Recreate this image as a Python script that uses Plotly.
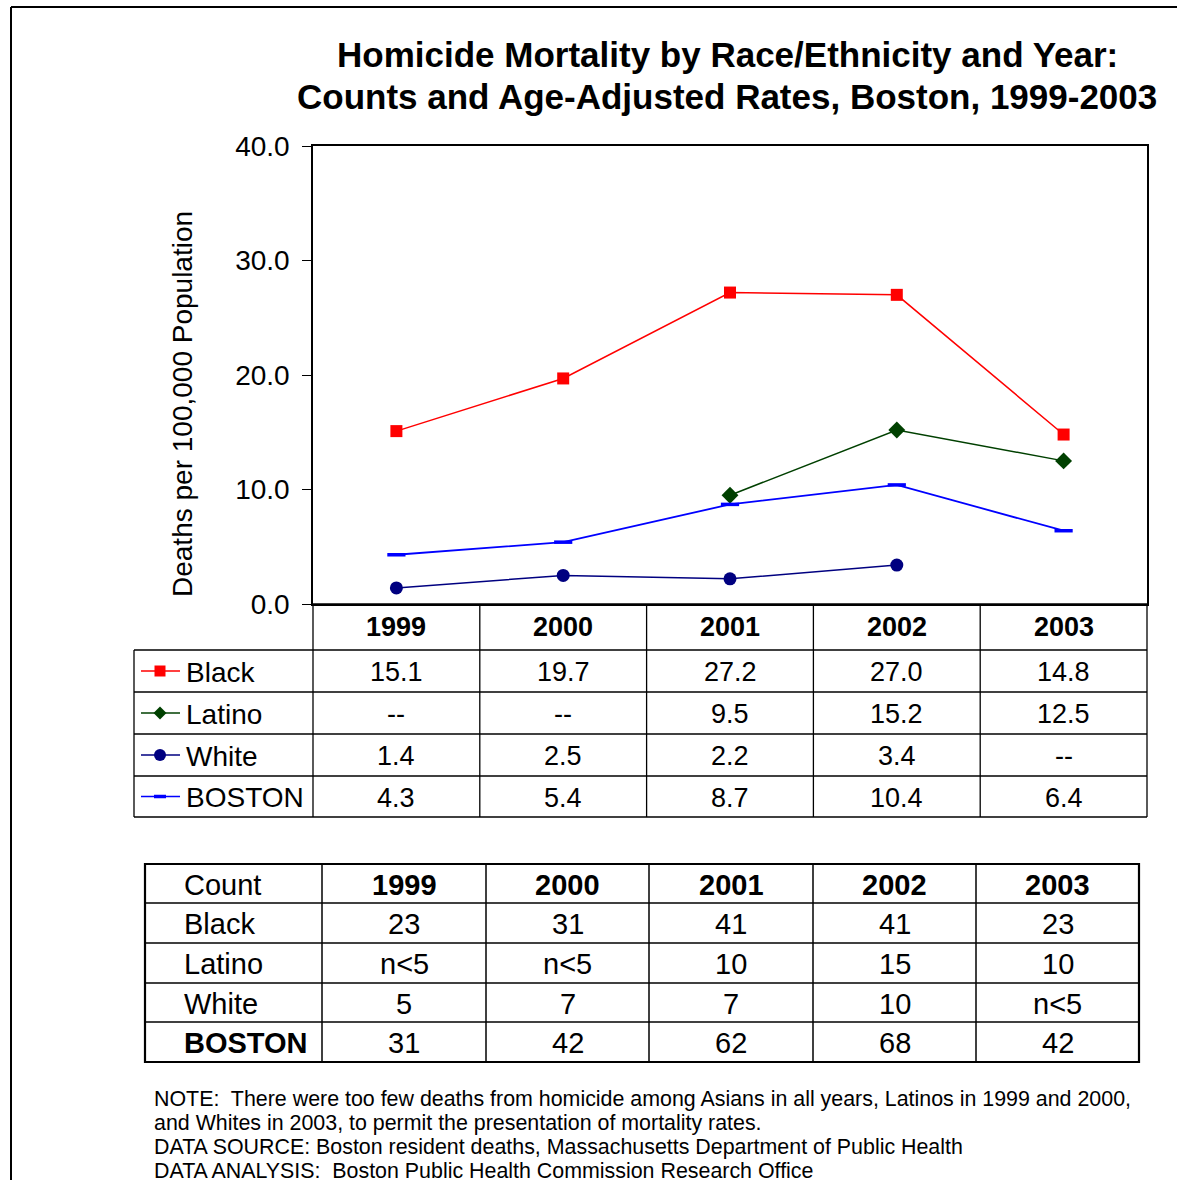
import plotly.graph_objects as go

W, H = 1177, 1180

years = ["1999", "2000", "2001", "2002", "2003"]
series_names = ["Black", "Latino", "White", "BOSTON"]
black_rates = [15.1, 19.7, 27.2, 27.0, 14.8]
latino_rates = [None, None, 9.5, 15.2, 12.5]
white_rates = [1.4, 2.5, 2.2, 3.4, None]
boston_rates = [4.3, 5.4, 8.7, 10.4, 6.4]

count_rows = ["Black", "Latino", "White", "BOSTON"]
black_counts = ["23", "31", "41", "41", "23"]
latino_counts = ["n<5", "n<5", "10", "15", "10"]
white_counts = ["5", "7", "7", "10", "n<5"]
boston_counts = ["31", "42", "62", "68", "42"]

y_ticks = [0, 10, 20, 30, 40]
y_tick_labels = ["0.0", "10.0", "20.0", "30.0", "40.0"]

title_lines = ["Homicide Mortality by Race/Ethnicity and Year:",
               "Counts and Age-Adjusted Rates, Boston, 1999-2003"]
y_title = "Deaths per 100,000 Population"
notes = [
    "NOTE:  There were too few deaths from homicide among Asians in all years, Latinos in 1999 and 2000,",
    "and Whites in 2003, to permit the presentation of mortality rates.",
    "DATA SOURCE: Boston resident deaths, Massachusetts Department of Public Health",
    "DATA ANALYSIS:  Boston Public Health Commission Research Office",
]

FONT = "Arial, Liberation Sans, sans-serif"

styles = {
    "Black": dict(color="#FF0000", symbol="square", size=12, lw=1.5),
    "Latino": dict(color="#004000", symbol="diamond", size=13, lw=1.5),
    "White": dict(color="#000080", symbol="circle", size=13, lw=1.5),
    "BOSTON": dict(color="#0000FF", symbol="line-ew", size=13, lw=1.8),
}
rates = {"Black": black_rates, "Latino": latino_rates, "White": white_rates, "BOSTON": boston_rates}
rate_text = {k: [("--" if v is None else f"{v:.1f}") for v in vals] for k, vals in rates.items()}


def px(x):
    return x / W


def py(y):
    return 1 - y / H


# plot area in pixels
PL, PR, PT, PB = 313, 1147, 146, 604

fig = go.Figure()
for name in series_names:
    s = styles[name]
    marker = dict(symbol=s["symbol"], size=s["size"], color=s["color"])
    if s["symbol"] == "line-ew":
        marker["line"] = dict(color=s["color"], width=3.5)
    fig.add_trace(go.Scatter(
        x=list(range(len(years))), y=rates[name], mode="lines+markers",
        line=dict(color=s["color"], width=s["lw"]), marker=marker,
        connectgaps=False, name=name, showlegend=False))

shapes = []
annotations = []

# outer border (left and top visible)
shapes.append(dict(type="line", xref="paper", yref="paper", x0=px(11), x1=px(11), y0=py(7), y1=py(H + 5),
                   line=dict(color="black", width=2)))
shapes.append(dict(type="line", xref="paper", yref="paper", x0=px(11), x1=px(W + 5), y0=py(7), y1=py(7),
                   line=dict(color="black", width=2)))

# Title
for i, t in enumerate(title_lines):
    annotations.append(dict(text=f"<b>{t}</b>", x=px(727), y=py(55 + 42 * i), xref="paper", yref="paper",
                            showarrow=False, xanchor="center", yanchor="middle",
                            font=dict(family=FONT, size=35, color="black")))

# y title
annotations.append(dict(text=y_title, x=px(183), y=py(404), xref="paper", yref="paper", textangle=-90,
                        showarrow=False, xanchor="center", yanchor="middle",
                        font=dict(family=FONT, size=28, color="black")))


def hline(x0, x1, y, w=1.3):
    shapes.append(dict(type="line", xref="paper", yref="paper", x0=px(x0), x1=px(x1), y0=py(y), y1=py(y),
                       line=dict(color="black", width=w)))


def vline(x, y0, y1, w=1.3):
    shapes.append(dict(type="line", xref="paper", yref="paper", x0=px(x), x1=px(x), y0=py(y0), y1=py(y1),
                       line=dict(color="black", width=w)))


def text(t, x, y, size, anchor="center", bold=False):
    annotations.append(dict(text=(f"<b>{t}</b>" if bold else t), x=px(x), y=py(y), xref="paper", yref="paper",
                            showarrow=False, xanchor=anchor, yanchor="middle",
                            font=dict(family=FONT, size=size, color="black")))


# ---- data table under the chart ----
col_edges = [PL + (PR - PL) * i / 5 for i in range(6)]
col_centers = [(col_edges[i] + col_edges[i + 1]) / 2 for i in range(5)]
row_edges = [604, 650, 692, 734, 776, 817]
TL = 134
for i, e in enumerate(col_edges):
    vline(e, PB, row_edges[-1])
vline(TL, row_edges[1], row_edges[-1])
hline(PL, PR, row_edges[0])
for r in row_edges[1:]:
    hline(TL, PR, r)
for j, yv in enumerate(years):
    text(yv, col_centers[j], (row_edges[0] + row_edges[1]) / 2, 27, bold=True)
for i, name in enumerate(series_names):
    yc = (row_edges[i + 1] + row_edges[i + 2]) / 2 + 1
    text(name, 184, yc, 28, anchor="left")
    for j in range(5):
        text(rate_text[name][j], col_centers[j], yc, 27)
    s = styles[name]
    ly = yc - 1
    shapes.append(dict(type="line", xref="paper", yref="paper", x0=px(141), x1=px(180), y0=py(ly), y1=py(ly),
                       line=dict(color=s["color"], width=1.5)))
    mx, r = 160, 5.5
    if s["symbol"] == "square":
        shapes.append(dict(type="rect", xref="paper", yref="paper", x0=px(mx - r), x1=px(mx + r),
                           y0=py(ly - r), y1=py(ly + r), fillcolor=s["color"], line=dict(width=0)))
    elif s["symbol"] == "diamond":
        path = (f"M {px(mx)},{py(ly - 6.5)} L {px(mx + 6.5)},{py(ly)} L {px(mx)},{py(ly + 6.5)} "
                f"L {px(mx - 6.5)},{py(ly)} Z")
        shapes.append(dict(type="path", xref="paper", yref="paper", path=path,
                           fillcolor=s["color"], line=dict(width=0)))
    elif s["symbol"] == "circle":
        shapes.append(dict(type="circle", xref="paper", yref="paper", x0=px(mx - 6), x1=px(mx + 6),
                           y0=py(ly - 6), y1=py(ly + 6), fillcolor=s["color"], line=dict(width=0)))
    else:
        shapes.append(dict(type="line", xref="paper", yref="paper", x0=px(mx - 6), x1=px(mx + 6),
                           y0=py(ly), y1=py(ly), line=dict(color=s["color"], width=3.5)))

# ---- count table ----
cx = [145, 322, 486, 649, 813, 976, 1139]
cy = [864, 903, 943, 983, 1022, 1062]
for x in cx[1:-1]:
    vline(x, cy[0], cy[-1], 1.5)
for y in cy[1:-1]:
    hline(cx[0], cx[-1], y, 1.5)
shapes.append(dict(type="rect", xref="paper", yref="paper", x0=px(cx[0]), x1=px(cx[-1]), y0=py(cy[0]), y1=py(cy[-1]),
                   line=dict(color="black", width=2.2)))
ccent = [(cx[i] + cx[i + 1]) / 2 for i in range(1, 6)]
text("Count", 182, (cy[0] + cy[1]) / 2 + 1, 29, anchor="left")
for j, yv in enumerate(years):
    text(yv, ccent[j], (cy[0] + cy[1]) / 2 + 1, 29, bold=True)
counts = [black_counts, latino_counts, white_counts, boston_counts]
for i, name in enumerate(count_rows):
    yc = (cy[i + 1] + cy[i + 2]) / 2 + 1
    text(name, 182, yc, 29, anchor="left", bold=(name == "BOSTON"))
    for j in range(5):
        text(counts[i][j], ccent[j], yc, 29)

# notes
for i, n in enumerate(notes):
    text(n, 152, 1099 + 24 * i, 21.4, anchor="left")

fig.update_layout(
    width=W, height=H, margin=dict(l=0, r=0, t=0, b=0, autoexpand=False),
    paper_bgcolor="white", plot_bgcolor="white",
    showlegend=False,
    xaxis=dict(domain=[px(PL), px(PR)], range=[-0.5, 4.5], showticklabels=False, ticks="",
               showgrid=False, zeroline=False, showline=True, linecolor="black", linewidth=1.5, mirror=True,
               fixedrange=True),
    yaxis=dict(domain=[py(PB), py(PT)], range=[0, 40], tickvals=y_ticks, ticktext=y_tick_labels,
               ticks="outside", ticklen=9, tickcolor="black", tickwidth=1.3, ticklabelstandoff=7,
               showgrid=False, zeroline=False, showline=True, linecolor="black", linewidth=1.5, mirror=True,
               tickfont=dict(family=FONT, size=28, color="black"), fixedrange=True),
    shapes=shapes, annotations=annotations,
)

fig.write_html("out.html", config={"displayModeBar": False},
               post_script="document.body.style.margin='0';")
